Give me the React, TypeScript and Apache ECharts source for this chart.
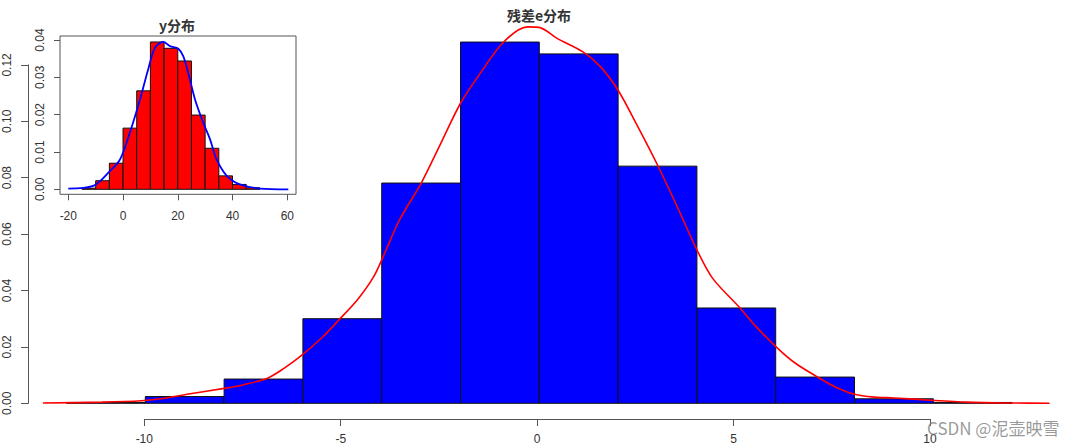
import React, { useEffect, useRef } from "react";
import * as echarts from "echarts";

// Main histogram (residual e): break points and densities
const mainBreaks = [-12, -10, -8, -6, -4, -2, 0, 2, 4, 6, 8, 10, 12];
const mainDensity = [0.0003, 0.0024, 0.0086, 0.0300, 0.0781, 0.1281, 0.1239, 0.0841, 0.0338, 0.0093, 0.0016, 0.0003];
// Main density curve (red)
const mainCurveX = [-12.6, -11.1, -10.1, -9.5, -8.9, -8.0, -7.5, -6.9, -6.5, -6.05, -5.5, -5.05, -4.6, -4.2, -3.9, -3.55, -3.0, -2.5, -2.0, -1.5, -0.9, -0.3, 0.0, 0.45, 1.1, 1.55, 2.0, 2.5, 3.0, 3.5, 4.0, 4.4, 5.1, 5.5, 6.05, 6.5, 7.05, 7.5, 8.0, 8.5, 9.0, 9.8, 10.85, 12.0, 12.95];
const mainCurveY = [0.0001, 0.0004, 0.0009, 0.0018, 0.0033, 0.0053, 0.0066, 0.0089, 0.0122, 0.0168, 0.0235, 0.0301, 0.0370, 0.0450, 0.0540, 0.065, 0.078, 0.0922, 0.1064, 0.117, 0.1282, 0.1335, 0.1333, 0.1294, 0.1247, 0.1194, 0.111, 0.0981, 0.0845, 0.0697, 0.0544, 0.0443, 0.0337, 0.0272, 0.0195, 0.0142, 0.0094, 0.0059, 0.0032, 0.0022, 0.0019, 0.0012, 0.0004, 0.0001, 0.0];

// Inset histogram (y)
const insetBreaks = [-15, -10, -5, 0, 5, 10, 15, 20, 25, 30, 35, 40, 45, 50];
const insetDensity = [0.0003, 0.0023, 0.0070, 0.0164, 0.0264, 0.0395, 0.0378, 0.0344, 0.0199, 0.0110, 0.0036, 0.0013, 0.0004];
const insetCurveX = [-20, -10.9, -4.8, -1.1, 2.5, 6.2, 9.2, 11.7, 14.7, 17.2, 20.2, 22.0, 23.8, 26.3, 29.3, 31.8, 34.2, 37.9, 42.7, 50, 60.4];
const insetCurveY = [0.0002, 0.0009, 0.0049, 0.008, 0.0152, 0.0241, 0.0322, 0.038, 0.0395, 0.0384, 0.0377, 0.0357, 0.0313, 0.0241, 0.0179, 0.0134, 0.008, 0.0036, 0.0013, 0.0002, 0.0];

// Tick values
const mainXTicks = [-10, -5, 0, 5, 10];
const mainYTicks = [0, 0.02, 0.04, 0.06, 0.08, 0.1, 0.12];
const insetXTicks = [-20, 0, 20, 40, 60];
const insetYTicks = [0, 0.01, 0.02, 0.03, 0.04];

const mainTitle = "残差e分布";
const insetTitle = "y分布";
const watermark = "CSDN @泥壶映雪";

const LINE = "#555";
const TXT = "#333";
const FONT = "'Liberation Sans', Arial, sans-serif";

function histData(breaks: number[], dens: number[]) {
  return dens.map((d, i) => [breaks[i], breaks[i + 1], d]);
}

function histSeries(xi: number, yi: number, breaks: number[], dens: number[], fill: string) {
  return {
    type: "custom",
    xAxisIndex: xi,
    yAxisIndex: yi,
    data: histData(breaks, dens),
    encode: { x: [0, 1], y: 2 },
    renderItem: (params: any, api: any) => {
      const p0 = api.coord([api.value(0), api.value(2)]);
      const p1 = api.coord([api.value(1), 0]);
      return {
        type: "rect",
        shape: { x: p0[0], y: p0[1], width: p1[0] - p0[0], height: p1[1] - p0[1] },
        style: { fill, stroke: "#111", lineWidth: 1 },
      };
    },
  };
}

export default function App() {
  const ref = useRef<HTMLDivElement>(null);
  useEffect(() => {
    if (!ref.current) return;
    const chart = echarts.init(ref.current, null, { renderer: "svg" });
    const hidden = { show: false };
    const fmt2 = (v: number) => v.toFixed(2);
    const option: any = {
      animation: false,
      backgroundColor: "#fff",
      grid: [
        { left: 27.1, right: 20.6, top: 8.5, bottom: 42.7 },
        { left: 28, width: 10, top: 64.9, bottom: 42.7 },
        { left: 144.3, right: 150, bottom: 27, height: 10 },
        { left: 60, top: 36, width: 236, height: 158.3, show: true, borderColor: LINE, borderWidth: 1, backgroundColor: "#fff" },
        { left: 68.3, width: 219, bottom: 251.7, height: 10 },
        { left: 60, width: 10, top: 40, height: 149.3 },
      ],
      xAxis: [
        { type: "value", gridIndex: 0, min: -13, max: 13.2, ...hidden },
        { type: "value", gridIndex: 1, ...hidden },
        {
          type: "value", gridIndex: 2, position: "bottom",
          min: mainXTicks[0], max: mainXTicks[mainXTicks.length - 1], interval: mainXTicks[1] - mainXTicks[0],
          axisLine: { show: true, onZero: false, lineStyle: { color: LINE, width: 1 } },
          axisTick: { show: true, length: 7, lineStyle: { color: LINE } },
          axisLabel: { margin: 14, color: TXT, fontSize: 12, fontFamily: FONT },
          splitLine: { show: false },
        },
        { type: "value", gridIndex: 3, min: -23.03, max: 63.2, ...hidden },
        {
          type: "value", gridIndex: 4, position: "bottom",
          min: insetXTicks[0], max: insetXTicks[insetXTicks.length - 1], interval: insetXTicks[1] - insetXTicks[0],
          axisLine: { show: false, onZero: false },
          axisTick: { show: true, length: 6, lineStyle: { color: LINE } },
          axisLabel: { margin: 16, color: TXT, fontSize: 12, fontFamily: FONT },
          splitLine: { show: false },
        },
        { type: "value", gridIndex: 5, ...hidden },
      ],
      yAxis: [
        { type: "value", gridIndex: 0, min: 0, max: 0.14, ...hidden },
        {
          type: "value", gridIndex: 1, position: "left",
          min: mainYTicks[0], max: mainYTicks[mainYTicks.length - 1], interval: mainYTicks[1] - mainYTicks[0],
          axisLine: { show: true, onZero: false, lineStyle: { color: LINE, width: 1 } },
          axisTick: { show: true, length: 7, lineStyle: { color: LINE } },
          axisLabel: { margin: 15, rotate: 90, color: TXT, fontSize: 12, fontFamily: FONT, formatter: fmt2 },
          splitLine: { show: false },
        },
        { type: "value", gridIndex: 2, ...hidden },
        { type: "value", gridIndex: 3, min: -0.00134, max: 0.0411, ...hidden },
        { type: "value", gridIndex: 4, ...hidden },
        {
          type: "value", gridIndex: 5, position: "left",
          min: insetYTicks[0], max: insetYTicks[insetYTicks.length - 1], interval: insetYTicks[1] - insetYTicks[0],
          axisLine: { show: false, onZero: false },
          axisTick: { show: true, length: 6, lineStyle: { color: LINE } },
          axisLabel: { margin: 14, rotate: 90, color: TXT, fontSize: 12, fontFamily: FONT, formatter: fmt2 },
          splitLine: { show: false },
        },
      ],
      series: [
        histSeries(0, 0, mainBreaks, mainDensity, "#0000ff"),
        {
          type: "line", xAxisIndex: 0, yAxisIndex: 0, smooth: 0.3, showSymbol: false,
          data: mainCurveX.map((x, i) => [x, mainCurveY[i]]),
          lineStyle: { color: "#ff0000", width: 1.6 },
          z: 5,
        },
        histSeries(3, 3, insetBreaks, insetDensity, "#ff0000"),
        {
          type: "line", xAxisIndex: 3, yAxisIndex: 3, smooth: 0.3, showSymbol: false,
          data: insetCurveX.map((x, i) => [x, insetCurveY[i]]),
          lineStyle: { color: "#0000ff", width: 1.8 },
          z: 5,
        },
      ],
      graphic: [
        {
          type: "text", x: 539, y: 15,
          style: { text: mainTitle, textAlign: "center", textVerticalAlign: "middle", fontSize: 14, fontWeight: "bold", fill: TXT, fontFamily: "'Noto Sans CJK SC', sans-serif" },
        },
        {
          type: "text", x: 177, y: 25,
          style: { text: insetTitle, textAlign: "center", textVerticalAlign: "middle", fontSize: 14, fontWeight: "bold", fill: TXT, fontFamily: "'Noto Sans CJK SC', sans-serif" },
        },
        {
          type: "text", x: 927, y: 427,
          style: { text: watermark, textAlign: "left", textVerticalAlign: "middle", fontSize: 17, fill: "rgba(120,120,120,0.75)", fontFamily: "'Noto Sans CJK SC', sans-serif" },
          z: 100,
        },
      ],
    };
    chart.setOption(option);
    return () => chart.dispose();
  }, []);
  return <div ref={ref} style={{ width: 1080, height: 446, position: "absolute", left: 0, top: 0 }} />;
}
